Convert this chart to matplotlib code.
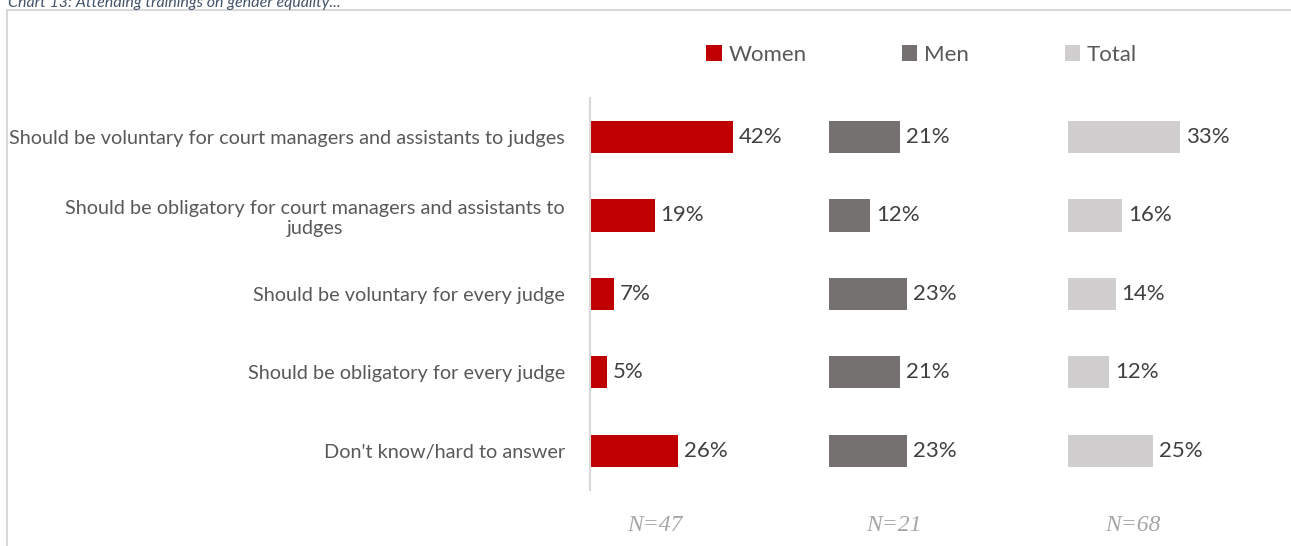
import matplotlib.pyplot as plt
from matplotlib.patches import Rectangle, Patch

# survey shares (%) per answer, by group
categories = [
    "Should be voluntary for court managers and assistants to judges",
    "Should be obligatory for court managers and assistants to\njudges",
    "Should be voluntary for every judge",
    "Should be obligatory for every judge",
    "Don't know/hard to answer",
]
women = [42, 19, 7, 5, 26]
men = [21, 12, 23, 21, 23]
total = [33, 16, 14, 12, 25]
groups = ["Women", "Men", "Total"]
sample_sizes = ["N=47", "N=21", "N=68"]
colors = ["#C00000", "#767171", "#D0CECE"]

W, H = 1291, 546
PX_PER_PCT = 3.4

plt.rcParams['font.family'] = ['Lato', 'DejaVu Sans']

fig = plt.figure(figsize=(W / 100, H / 100), dpi=100)

# chart frame and title (runs off the top edge)
fig.patches.append(Rectangle((7 / W, -0.1), 1.1, 1.1 - 10.5 / H, transform=fig.transFigure,
                             fill=False, edgecolor="#D9D9D9", linewidth=1.5))
fig.text(8 / W, 1 - 7.5 / H, "Chart 13: Attending trainings on gender equality...",
         fontsize=11.5, style="italic", color="#44546A", va="baseline", ha="left")

panel_left = [590, 829, 1068]
top_px, bottom_px = 97.75, 490
series = [women, men, total]

for i, (vals, col, n) in enumerate(zip(series, colors, sample_sizes)):
    left = panel_left[i]
    width_px = min(239, W - left)
    ax = fig.add_axes([left / W, 1 - bottom_px / H, width_px / W, (bottom_px - top_px) / H])
    ypos = range(len(categories))
    ax.barh(ypos, vals, height=0.41, color=col)
    ax.set_xlim(0, width_px / PX_PER_PCT)
    ax.set_ylim(len(categories) - 0.5, -0.5)
    for s in ax.spines.values():
        s.set_visible(False)
    ax.set_xticks([])
    if i == 0:
        ax.spines['left'].set_visible(True)
        ax.spines['left'].set_color("#D9D9D9")
        ax.spines['left'].set_linewidth(1.5)
        ax.set_yticks(list(ypos))
        ax.set_yticklabels(categories, fontsize=14.3, color="#595959", multialignment="center")
        ax.tick_params(axis='y', length=0, pad=18)
    else:
        ax.set_yticks([])
    for y, v in zip(ypos, vals):
        ax.text(v + 6 / PX_PER_PCT, y, f"{v}%", va="center", ha="left",
                fontsize=16, color="#404040")
    ax.text(19, 4.95, n, ha="center", va="center", fontsize=17, style="italic",
            family="Liberation Serif", color="#A6A6A6", clip_on=False)

handles = [Patch(facecolor=c, edgecolor="none") for c in colors]
fig.legend(handles, groups, loc="center left", bbox_to_anchor=(686 / W, 1 - 55 / H),
           ncol=3, frameon=False, fontsize=16, labelcolor="#595959",
           handlelength=0.7, handleheight=0.7, handletextpad=0.3, columnspacing=4.3)

fig.savefig("out.png", dpi=100)
